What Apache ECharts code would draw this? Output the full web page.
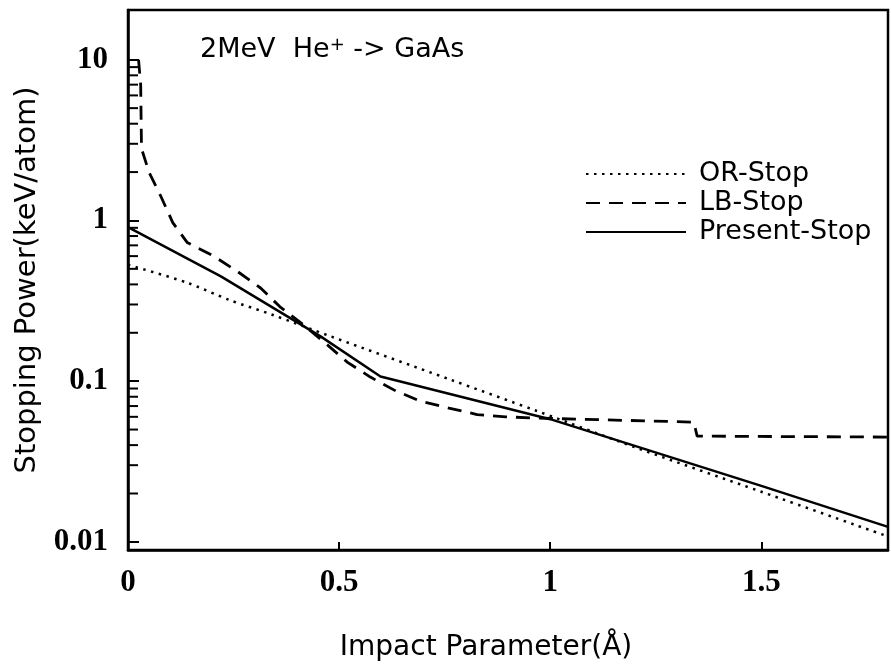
<!DOCTYPE html>
<html>
<head>
<meta charset="utf-8">
<script src="https://cdn.jsdelivr.net/npm/echarts@6/dist/echarts.min.js"></script>
<style>
html,body{margin:0;padding:0;background:#fff;}
#chart{width:891px;height:667px;}
</style>
</head>
<body>
<div id="chart"></div>
<script>
// ---- data ----
const seriesNames = ['OR-Stop', 'LB-Stop', 'Present-Stop'];

const orX = [0, 0.14, 0.24, 0.34, 0.48, 0.76, 0.97, 1.21, 1.5, 1.8];
const orY = [0.53, 0.41, 0.32, 0.26, 0.19, 0.103, 0.065, 0.038, 0.0205, 0.0108];

const lbX = [0.025, 0.03, 0.032, 0.05, 0.078, 0.106, 0.14, 0.203, 0.26, 0.314, 0.36, 0.414, 0.47, 0.52, 0.574, 0.634, 0.693, 0.76, 0.827, 0.894, 0.96, 1.34, 1.348, 1.8];
const lbY = [10, 7, 2.8, 1.99, 1.41, 0.97, 0.73, 0.60, 0.48, 0.38, 0.29, 0.226, 0.17, 0.131, 0.106, 0.087, 0.075, 0.068, 0.062, 0.060, 0.059, 0.0556, 0.0455, 0.0449];

const psX = [0, 0.22, 0.338, 0.456, 0.598, 1.0, 1.5, 1.8];
const psY = [0.91, 0.449, 0.292, 0.19, 0.107, 0.058, 0.0223, 0.0124];

const xTickValues = [0, 0.5, 1, 1.5];
const xTickLabels = ['0', '0.5', '1', '1.5'];
const yTickValues = [0.01, 0.1, 1, 10];
const yTickLabels = ['0.01', '0.1', '1', '10'];
const yMinorTicks = [0.02,0.03,0.04,0.05,0.06,0.07,0.08,0.09,0.2,0.3,0.4,0.5,0.6,0.7,0.8,0.9,2,3,4,5,6,7,8,9];

const titleText = '2MeV  He{sup|+} -> GaAs';
const xName = 'Impact Parameter(Å)';
const yName = 'Stopping Power(keV/atom)';

// ---- build ----
const zip = (xs, ys) => xs.map((x, i) => [x, ys[i]]);
const sansFont = 'DejaVu Sans';
const tickFont = 'Liberation Serif';

const chart = echarts.init(document.getElementById('chart'), null, {renderer: 'canvas'});

function matchLabel(v, vals, labels) {
  for (let i = 0; i < vals.length; i++) {
    if (Math.abs(v - vals[i]) <= Math.abs(vals[i]) * 1e-6 + 1e-9) return labels[i];
  }
  return '';
}

const option = {
  backgroundColor: '#fff',
  animation: false,
  title: {
    text: titleText,
    left: 200, top: 36, padding: 0,
    textStyle: {
      fontFamily: sansFont, fontSize: 27, fontWeight: 'normal', color: '#000',
      rich: { sup: { fontFamily: sansFont, fontSize: 18, color: '#000', padding: [0, 0, 10, 0] } }
    }
  },
  legend: {
    orient: 'vertical',
    left: 580, top: 155,
    itemWidth: 100, itemHeight: 14, itemGap: 1,
    data: seriesNames,
    itemStyle: { opacity: 0 },
    textStyle: { fontFamily: sansFont, fontSize: 27, color: '#000', lineHeight: 28, padding: [0, 0, 0, 8] },
    selectedMode: false
  },
  grid: { left: 128, right: 1, top: 10, bottom: 116, show: true, borderColor: '#000', borderWidth: 2.5, backgroundColor: 'transparent' },
  xAxis: {
    type: 'value', min: 0, max: 1.8, interval: 0.5,
    name: xName, nameLocation: 'middle', nameGap: 84,
    nameTextStyle: { fontFamily: sansFont, fontSize: 28, color: '#000', padding: [0, 44, 0, 0] },
    axisLine: { show: true, lineStyle: { color: '#000', width: 2.5 } },
    axisTick: { show: true, inside: true, length: 8, lineStyle: { color: '#000', width: 2 } },
    axisLabel: {
      margin: 17, color: '#000', fontFamily: tickFont, fontWeight: 'bold', fontSize: 31,
      formatter: v => matchLabel(v, xTickValues, xTickLabels)
    },
    splitLine: { show: false }
  },
  yAxis: {
    type: 'log', logBase: 10, min: 0.0089, max: 20.4,
    name: yName, nameLocation: 'middle', nameGap: 86,
    nameTextStyle: { fontFamily: sansFont, fontSize: 29, color: '#000' },
    axisLine: { show: true, lineStyle: { color: '#000', width: 2.5 } },
    axisTick: { show: true, inside: true, length: 11, lineStyle: { color: '#000', width: 2 } },
    axisLabel: {
      margin: 20, color: '#000', fontFamily: tickFont, fontWeight: 'bold', fontSize: 31,
      formatter: v => matchLabel(v, yTickValues, yTickLabels)
    },
    splitLine: { show: false }
  },
  series: [
    {
      name: seriesNames[0], type: 'line', data: zip(orX, orY), symbol: 'none', smooth: 0.3,
      lineStyle: { color: '#000', width: 2.5, type: [2.5, 5.5] },
      itemStyle: { color: '#000' }
    },
    {
      name: seriesNames[1], type: 'line', data: zip(lbX, lbY), symbol: 'none',
      lineStyle: { color: '#000', width: 2.8, type: [14, 9] },
      itemStyle: { color: '#000' }
    },
    {
      name: seriesNames[2], type: 'line', data: zip(psX, psY), symbol: 'none',
      lineStyle: { color: '#000', width: 2.5 },
      itemStyle: { color: '#000' }
    },
    {
      name: 'minorTicks', type: 'custom', silent: true,
      data: yMinorTicks.map(v => [0, v]),
      encode: { x: 0, y: 1 },
      renderItem: function (params, api) {
        const p = api.coord([0, api.value(1)]);
        return {
          type: 'line',
          shape: { x1: p[0], y1: p[1], x2: p[0] + 10, y2: p[1] },
          style: { stroke: '#000', lineWidth: 2 }
        };
      }
    }
  ]
};
chart.setOption(option);
</script>
</body>
</html>
